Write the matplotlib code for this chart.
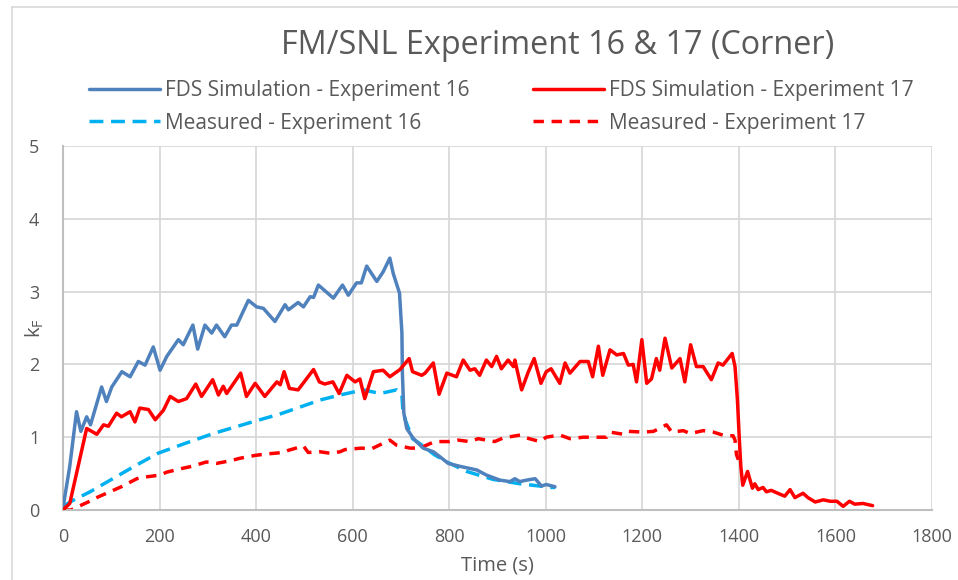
import matplotlib as mpl
import matplotlib.pyplot as plt
import numpy as np

# FDS simulation - experiment 16
fds16_t = [0, 14, 28, 37, 49, 57, 80, 90, 101, 122, 139, 156, 170, 187, 201, 215,
           239, 249, 269, 279, 294, 308, 318, 335, 349, 360, 384, 401, 415, 439,
           460, 467, 487, 498, 512, 519, 529, 560, 579, 591, 608, 618, 629, 650,
           663, 677, 684, 697, 702, 703, 706, 712, 726, 746, 767, 781, 798, 822,
           857, 877, 905, 926, 936, 946, 960, 978, 991, 1001, 1019]
fds16_k = [0.03, 0.6, 1.35, 1.08, 1.28, 1.17, 1.69, 1.49, 1.69, 1.90, 1.83, 2.04,
           1.99, 2.24, 1.92, 2.11, 2.34, 2.27, 2.54, 2.21, 2.54, 2.43, 2.54, 2.38,
           2.54, 2.54, 2.88, 2.79, 2.77, 2.59, 2.82, 2.75, 2.85, 2.79, 2.93, 2.92,
           3.09, 2.91, 3.09, 2.95, 3.12, 3.12, 3.35, 3.14, 3.27, 3.46, 3.25, 2.98,
           2.43, 1.88, 1.33, 1.12, 0.98, 0.85, 0.80, 0.73, 0.64, 0.60, 0.55, 0.48,
           0.41, 0.39, 0.43, 0.39, 0.41, 0.43, 0.33, 0.35, 0.32]

# Measured - experiment 16
meas16_t = [0, 20, 56, 111, 153, 197, 255, 311, 387, 450, 498, 532, 574, 622, 657,
            691, 702, 704, 710, 724, 746, 769, 795, 836, 891, 947, 1012, 1020]
meas16_k = [0.05, 0.13, 0.25, 0.46, 0.62, 0.78, 0.92, 1.05, 1.20, 1.32, 1.43, 1.51,
            1.58, 1.65, 1.60, 1.65, 1.58, 1.36, 1.22, 0.98, 0.88, 0.76, 0.66, 0.53,
            0.42, 0.36, 0.31, 0.31]

# FDS simulation - experiment 17
fds17_t = [0, 14, 49, 70, 84, 94, 111, 121, 139, 149, 159, 177, 191, 208, 222, 239,
           256, 275, 287, 310, 322, 332, 339, 368, 380, 398, 418, 443, 450, 458,
           469, 487, 519, 531, 542, 559, 572, 588, 605, 615, 625, 643, 663, 677,
           698, 717, 724, 743, 750, 767, 779, 795, 815, 829, 843, 853, 863, 877,
           888, 898, 908, 922, 933, 936, 950, 964, 976, 990, 1001, 1011, 1029,
           1040, 1050, 1071, 1088, 1097, 1109, 1118, 1133, 1147, 1161, 1171, 1181,
           1188, 1199, 1209, 1219, 1229, 1236, 1247, 1261, 1278, 1288, 1300, 1312,
           1326, 1343, 1357, 1367, 1386, 1392, 1397, 1401, 1404, 1408, 1418, 1428,
           1433, 1440, 1450, 1457, 1467, 1484, 1495, 1506, 1516, 1533, 1543, 1558,
           1575, 1589, 1603, 1616, 1629, 1640, 1657, 1677]
fds17_k = [0.0, 0.09, 1.12, 1.04, 1.17, 1.15, 1.33, 1.28, 1.35, 1.21, 1.40, 1.38,
           1.24, 1.37, 1.56, 1.49, 1.53, 1.73, 1.56, 1.79, 1.58, 1.70, 1.60, 1.88,
           1.56, 1.74, 1.56, 1.76, 1.72, 1.90, 1.67, 1.65, 1.93, 1.76, 1.73, 1.76,
           1.60, 1.85, 1.76, 1.80, 1.53, 1.90, 1.92, 1.83, 1.93, 2.08, 1.90, 1.85,
           1.88, 2.02, 1.59, 1.88, 1.83, 2.06, 1.92, 1.94, 1.85, 2.06, 1.97, 2.11,
           1.94, 2.06, 1.97, 2.06, 1.65, 1.90, 2.08, 1.74, 1.90, 1.94, 1.74, 2.02,
           1.88, 2.04, 2.04, 1.83, 2.25, 1.85, 2.20, 2.13, 2.15, 1.99, 2.00, 1.76,
           2.34, 1.74, 1.80, 2.08, 1.92, 2.36, 1.95, 2.08, 1.76, 2.27, 1.97, 1.97,
           1.79, 2.02, 1.99, 2.15, 1.97, 1.51, 0.96, 0.60, 0.34, 0.53, 0.30, 0.36,
           0.28, 0.31, 0.25, 0.27, 0.22, 0.19, 0.28, 0.17, 0.23, 0.17, 0.11, 0.14,
           0.12, 0.12, 0.05, 0.12, 0.08, 0.09, 0.06]

# Measured - experiment 17
meas17_t = [0, 16, 52, 73, 104, 121, 153, 167, 201, 215, 246, 267, 297, 318, 349,
            366, 398, 422, 456, 467, 498, 508, 532, 553, 574, 584, 618, 639, 677,
            691, 719, 739, 770, 801, 818, 843, 860, 894, 912, 947, 960, 988, 1001,
            1029, 1050, 1078, 1098, 1126, 1133, 1161, 1171, 1202, 1223, 1250, 1261,
            1285, 1299, 1326, 1347, 1371, 1388, 1392, 1395, 1399]
meas17_k = [0.0, 0.0, 0.11, 0.18, 0.27, 0.32, 0.43, 0.45, 0.48, 0.52, 0.57, 0.60,
            0.66, 0.64, 0.68, 0.71, 0.75, 0.77, 0.79, 0.82, 0.88, 0.79, 0.80, 0.78,
            0.80, 0.83, 0.85, 0.84, 0.96, 0.89, 0.85, 0.85, 0.94, 0.94, 0.96, 0.94,
            0.98, 0.94, 0.99, 1.03, 0.99, 0.94, 1.00, 1.03, 0.98, 1.00, 1.00, 1.00,
            1.07, 1.04, 1.08, 1.07, 1.08, 1.17, 1.07, 1.09, 1.05, 1.09, 1.07, 1.02,
            1.02, 0.96, 0.76, 0.69]

x_ticks = [0, 200, 400, 600, 800, 1000, 1200, 1400, 1600, 1800]
y_ticks = [0, 1, 2, 3, 4, 5]

mpl.rcParams["font.family"] = ["Open Sans", "DejaVu Sans"]
mpl.rcParams["text.color"] = "#595959"
mpl.rcParams["mathtext.fontset"] = "custom"
mpl.rcParams["mathtext.rm"] = "Open Sans"

W, H = 958, 580
fig = plt.figure(figsize=(W / 100, H / 100), dpi=100)
ax = fig.add_axes([63 / W, 1 - 510 / H, 869 / W, 364 / H])

lw = 2.5
ax.plot(fds16_t, fds16_k, color="#4F81BD", lw=lw, label="FDS Simulation - Experiment 16",
        solid_capstyle="round", solid_joinstyle="round", zorder=3)
ax.plot(meas16_t, meas16_k, color="#00B0F0", lw=lw, ls=(0, (4, 2.2)),
        label="Measured - Experiment 16", zorder=2)
ax.plot(fds17_t, fds17_k, color="#FF0000", lw=lw, label="FDS Simulation - Experiment 17",
        solid_capstyle="round", solid_joinstyle="round", zorder=3)
ax.plot(meas17_t, meas17_k, color="#FF0000", lw=lw, ls=(0, (3, 2.2)),
        label="Measured - Experiment 17", zorder=2)

ax.set_xlim(0, 1800)
ax.set_ylim(0, 5)
ax.set_xticks(x_ticks)
ax.set_yticks(y_ticks)
ax.grid(True, color="#D9D9D9", lw=1.3)
ax.set_axisbelow(True)
for s in ["top", "right"]:
    ax.spines[s].set_visible(False)
for s in ["left", "bottom"]:
    ax.spines[s].set_color("#BFBFBF")
    ax.spines[s].set_linewidth(1.5)
ax.tick_params(length=0, labelsize=13, colors="#595959")
ax.tick_params(axis="x", pad=13)
ax.tick_params(axis="y", pad=17)

fig.text(497 / W, 1 - 565 / H, "Time (s)", fontsize=14.5, color="#595959",
         ha="center", va="center")
fig.text(35 / W, 1 - 328 / H, r"k$_\mathregular{F}$", fontsize=14.5, color="#595959",
         ha="center", va="center", rotation=90)

fig.text(558 / W, 1 - 45 / H, "FM/SNL Experiment 16 & 17 (Corner)", fontsize=23.3,
         color="#595959", ha="center", va="center")

ax.legend(loc="center left", bbox_to_anchor=(89 / W, 1 - 107 / H),
          bbox_transform=fig.transFigure, ncol=2, frameon=False,
          fontsize=15, handlelength=3.4, columnspacing=3.05, labelspacing=0.53,
          handletextpad=0.25, borderpad=0, borderaxespad=0, labelcolor="#595959")

# outer chart border (left and top edges visible)
fig.add_artist(plt.Line2D([12 / W, 12 / W], [0, 1 - 7 / H], color="#D9D9D9", lw=1.2))
fig.add_artist(plt.Line2D([12 / W, 1], [1 - 7 / H, 1 - 7 / H], color="#D9D9D9", lw=1.2))

fig.savefig("out.png", dpi=100)
